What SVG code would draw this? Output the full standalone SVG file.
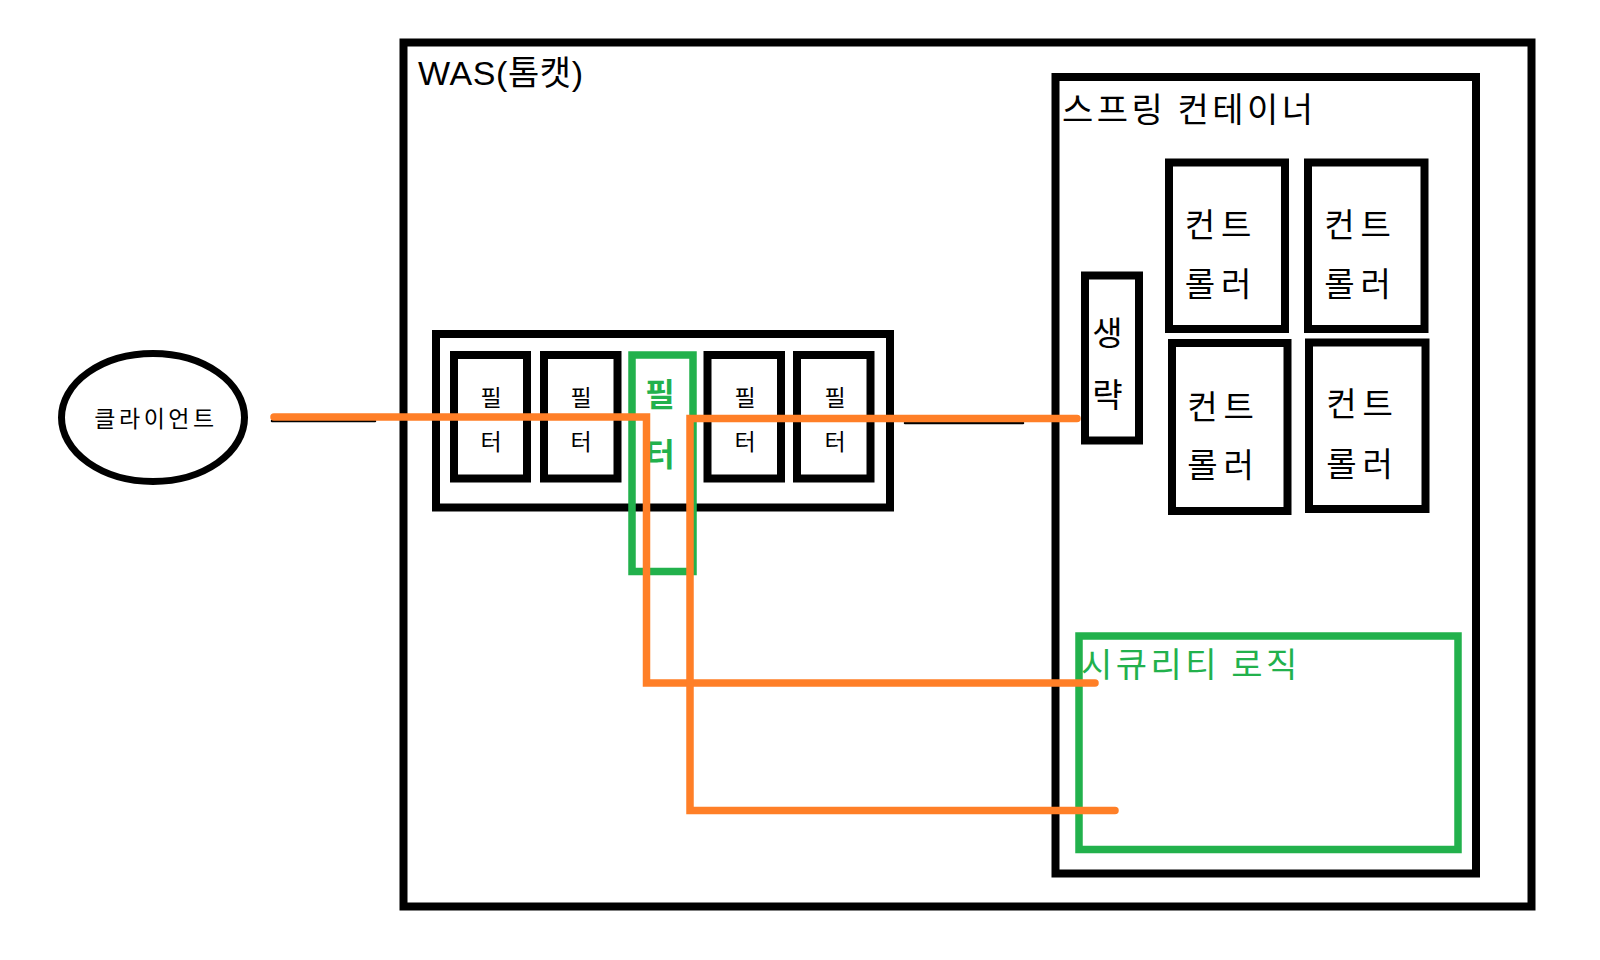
<svg xmlns="http://www.w3.org/2000/svg" width="1600" height="960" viewBox="0 0 1600 960">
<style>
.bk{fill:none;stroke:#000;stroke-width:8}
.gr{fill:none;stroke:#22B14C;stroke-width:7.5}
.t{font-family:"Liberation Sans","Noto Sans CJK KR",sans-serif;fill:#000}
.k{font-family:"Noto Sans CJK KR","Liberation Sans",sans-serif;fill:#000}
.ft{font-size:23px;text-anchor:middle}
.ct{font-size:33px;text-anchor:middle}
.cw{letter-spacing:6px}
.or{fill:none;stroke:#FF7F27;stroke-width:7.5;stroke-linejoin:miter;stroke-linecap:round}
.thin{fill:none;stroke:#000;stroke-width:2.5;stroke-linecap:round}
</style>
<rect width="1600" height="960" fill="#fff"/>
<g id="was">
<rect class="bk" x="403.5" y="42.5" width="1128" height="864"/>
<text class="t" x="418" y="85" font-size="34" letter-spacing="0.6">WAS(톰캣)</text>
</g>
<g id="spring">
<rect class="bk" x="1055.5" y="77" width="420.5" height="796.5"/>
<text class="k" x="1062" y="122" font-size="34" letter-spacing="3.5">스프링 컨테이너</text>
</g>
<g id="client">
<ellipse cx="153" cy="417.5" rx="91.5" ry="64" fill="none" stroke="#000" stroke-width="7"/>
<text class="k" x="156" y="427" font-size="23" text-anchor="middle" letter-spacing="3.5">클라이언트</text>
</g>
<g id="filter-chain">
<rect class="bk" x="436" y="334" width="454" height="173.5"/>
</g>
<g id="filter1">
<rect class="bk" x="454" y="355" width="73" height="123.5"/>
<text class="k ft" x="491" y="406">필</text>
<text class="k ft" x="491" y="450">터</text>
</g>
<g id="filter2">
<rect class="bk" x="544" y="355" width="73.5" height="123.5"/>
<text class="k ft" x="581" y="406">필</text>
<text class="k ft" x="581" y="450">터</text>
</g>
<g id="filter-security">
<rect class="gr" x="632" y="355" width="61" height="216.5"/>
<text x="660" y="406" font-size="32" font-weight="bold" text-anchor="middle" fill="#22B14C" font-family="Noto Sans CJK KR, sans-serif">필</text>
<text x="660" y="466" font-size="32" font-weight="bold" text-anchor="middle" fill="#22B14C" font-family="Noto Sans CJK KR, sans-serif">터</text>
</g>
<g id="filter4">
<rect class="bk" x="707.5" y="355" width="73.5" height="123.5"/>
<text class="k ft" x="745" y="406">필</text>
<text class="k ft" x="745" y="450">터</text>
</g>
<g id="filter5">
<rect class="bk" x="797" y="355" width="73.5" height="123.5"/>
<text class="k ft" x="835" y="406">필</text>
<text class="k ft" x="835" y="450">터</text>
</g>
<g id="omitted">
<rect class="bk" x="1085" y="275.5" width="54" height="165"/>
<text class="k ct" x="1107.5" y="345">생</text>
<text class="k ct" x="1107.5" y="407">략</text>
</g>
<g id="controller1">
<rect class="bk" x="1169" y="162.5" width="116" height="166.5"/>
<text class="k ct cw" x="1221" y="237">컨트</text>
<text class="k ct cw" x="1221" y="296">롤러</text>
</g>
<g id="controller2">
<rect class="bk" x="1308" y="162.5" width="116.5" height="166.5"/>
<text class="k ct cw" x="1360.5" y="237">컨트</text>
<text class="k ct cw" x="1360.5" y="296">롤러</text>
</g>
<g id="controller3">
<rect class="bk" x="1172" y="343" width="115.5" height="168"/>
<text class="k ct cw" x="1223.5" y="419">컨트</text>
<text class="k ct cw" x="1223.5" y="477">롤러</text>
</g>
<g id="controller4">
<rect class="bk" x="1309" y="342.5" width="116.5" height="166.5"/>
<text class="k ct cw" x="1362.5" y="416">컨트</text>
<text class="k ct cw" x="1362.5" y="476">롤러</text>
</g>
<g id="security-logic">
<rect class="gr" x="1079" y="636" width="379" height="213.5"/>
<text x="1081" y="677" font-size="34" fill="#22B14C" letter-spacing="3.5" font-family="Noto Sans CJK KR, sans-serif">시큐리티 로직</text>
</g>
<g id="connectors">
<line class="thin" x1="272" y1="421" x2="375" y2="421"/>
<line class="thin" x1="905" y1="423" x2="1023" y2="423"/>
<path class="or" d="M274 417 H646.5 V683 H1095"/>
<path class="or" d="M1077 418.5 H690 V810.5 H1115"/>
</g>
</svg>
